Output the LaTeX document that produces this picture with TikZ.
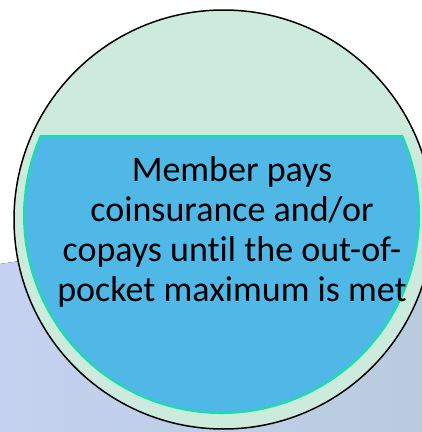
\documentclass[tikz,border=0pt]{standalone}
\usepackage{fontspec}
\setmainfont{Carlito}[RawFeature={-liga;-clig;-calt;-dlig}]
\usetikzlibrary{calc}

\definecolor{bandgreen}{RGB}{205,235,221}
\definecolor{fillblue}{RGB}{80,184,230}
\definecolor{edgegreen}{RGB}{20,225,165}
\definecolor{backleft}{RGB}{197,209,240}
\definecolor{backright}{RGB}{184,204,222}

\begin{document}
\begin{tikzpicture}[x=1pt, y=-1pt, line join=round]
		\useasboundingbox (0,0) rectangle (422,432);
		
		% Coordinates
		\coordinate (O) at (223.5,219.5);
		\coordinate (I) at (221.5,215.5);
		\coordinate (chordR) at ($(I)+(-23.7:197.5)$);
		
		% Background
		\fill[left color=backleft, right color=backright]
			(0,264) -- (422,200) -- (422,432) -- (0,432) -- cycle;
		
		% Outer circle
		\draw[fill=bandgreen, draw=black, line width=1.5] (O) circle (209.5);
		
		% Inner segment
		\draw[fill=fillblue, draw=edgegreen, line width=2]
			(chordR) arc[start angle=-23.7, end angle=203.7, radius=197.5] -- cycle;
		
		% Text
		\node[align=center, inner sep=0, font=\fontsize{36}{40}\selectfont] (txt) at (232,232)
			{Member pays\\coinsurance and/or\\copays until the out-of-\\pocket maximum is met};
	\end{tikzpicture}
\end{document}
